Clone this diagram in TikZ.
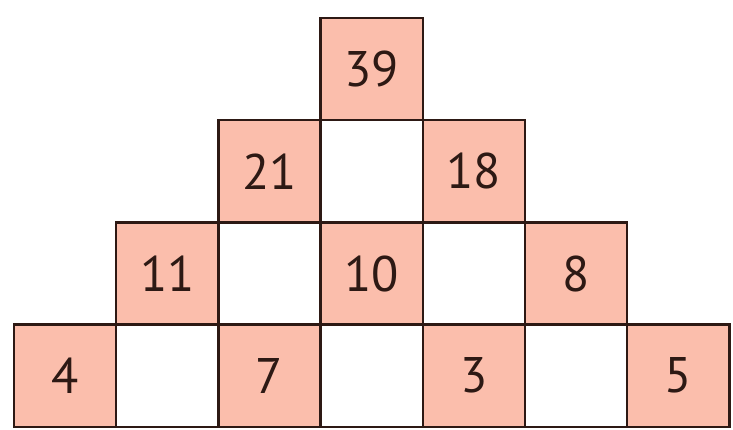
\documentclass[tikz,border=0pt]{standalone}
\usepackage{fontspec}
\setmainfont{PT Sans}
\definecolor{cellfill}{RGB}{251,190,172}
\definecolor{ink}{RGB}{45,25,20}
\begin{document}
\begin{tikzpicture}[x=1pt,y=-1pt,
  cell/.style={draw=ink, line width=2.4pt, minimum width=102.2pt, minimum height=102.2pt,
    inner sep=0pt, outer sep=0pt, anchor=center, font=\fontsize{50}{50}\selectfont, text=ink},
  full/.style={cell, fill=cellfill},
  blank/.style={cell, fill=white}]
\useasboundingbox[fill=white] (0,0) rectangle (733,429);
% row 0
\node[full]  (r0c3) at (371.7, 69.1) {39};
% row 1
\node[full]  (r1c2) at (269.5, 171.3) {21};
\node[blank] (r1c3) at (371.7, 171.3) {};
\node[full]  (r1c4) at (473.9, 171.3) {18};
% row 2
\node[full]  (r2c1) at (167.3, 273.5) {11};
\node[blank] (r2c2) at (269.5, 273.5) {};
\node[full]  (r2c3) at (371.7, 273.5) {10};
\node[blank] (r2c4) at (473.9, 273.5) {};
\node[full]  (r2c5) at (576.1, 273.5) {8};
% row 3
\node[full]  (r3c0) at (65.1, 375.7) {4};
\node[blank] (r3c1) at (167.3, 375.7) {};
\node[full]  (r3c2) at (269.5, 375.7) {7};
\node[blank] (r3c3) at (371.7, 375.7) {};
\node[full]  (r3c4) at (473.9, 375.7) {3};
\node[blank] (r3c5) at (576.1, 375.7) {};
\node[full]  (r3c6) at (678.3, 375.7) {5};
\end{tikzpicture}
\end{document}
